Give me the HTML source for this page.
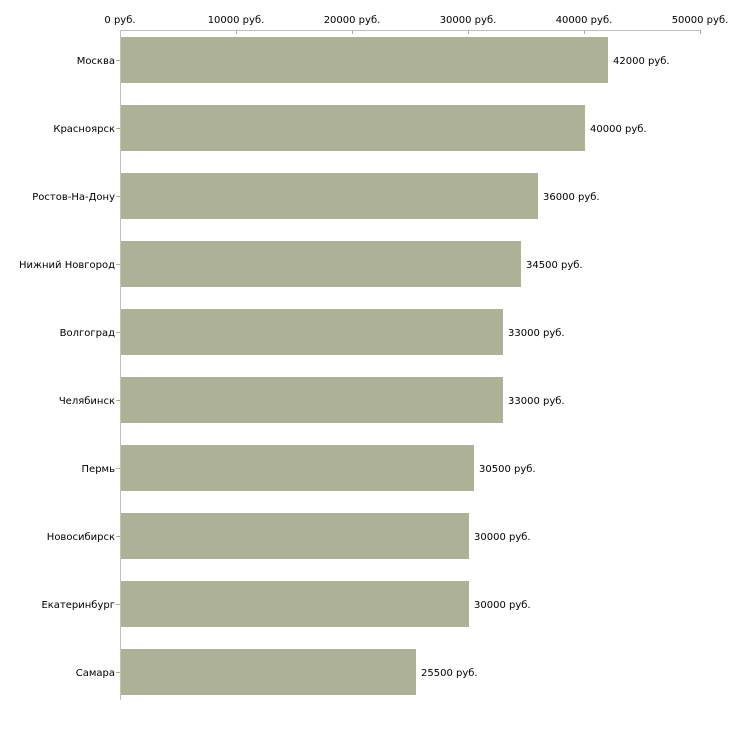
<!DOCTYPE html><html><head><meta charset="utf-8"><style>body{margin:0;background:#fff}</style></head><body>
<svg width="730" height="730" xmlns="http://www.w3.org/2000/svg" font-family="DejaVu Sans, Liberation Sans, sans-serif" font-size="10">
<line x1="120" y1="30.5" x2="700" y2="30.5" stroke="#c0c0c0"/>
<line x1="120.5" y1="30" x2="120.5" y2="700" stroke="#c0c0c0"/>
<g stroke="#b5b08a">
<line x1="236.5" y1="30" x2="236.5" y2="34"/><line x1="352.5" y1="30" x2="352.5" y2="34"/><line x1="468.5" y1="30" x2="468.5" y2="34"/><line x1="584.5" y1="30" x2="584.5" y2="34"/><line x1="700.5" y1="30" x2="700.5" y2="34"/>
</g>
<g text-anchor="middle" fill="#000">
<text x="120" y="23">0 руб.</text><text x="236" y="23">10000 руб.</text><text x="352" y="23">20000 руб.</text><text x="468" y="23">30000 руб.</text><text x="584" y="23">40000 руб.</text><text x="700" y="23">50000 руб.</text>
</g>
<g fill="#adb296">
<rect x="121" y="37" width="487" height="46"/>
<rect x="121" y="105" width="464" height="46"/>
<rect x="121" y="173" width="417" height="46"/>
<rect x="121" y="241" width="400" height="46"/>
<rect x="121" y="309" width="382" height="46"/>
<rect x="121" y="377" width="382" height="46"/>
<rect x="121" y="445" width="353" height="46"/>
<rect x="121" y="513" width="348" height="46"/>
<rect x="121" y="581" width="348" height="46"/>
<rect x="121" y="649" width="295" height="46"/>
</g>
<g stroke="#b5b08a">
<line x1="116" y1="60.5" x2="120" y2="60.5"/><line x1="116" y1="128.5" x2="120" y2="128.5"/><line x1="116" y1="196.5" x2="120" y2="196.5"/><line x1="116" y1="264.5" x2="120" y2="264.5"/><line x1="116" y1="332.5" x2="120" y2="332.5"/><line x1="116" y1="400.5" x2="120" y2="400.5"/><line x1="116" y1="468.5" x2="120" y2="468.5"/><line x1="116" y1="536.5" x2="120" y2="536.5"/><line x1="116" y1="604.5" x2="120" y2="604.5"/><line x1="116" y1="672.5" x2="120" y2="672.5"/>
</g>
<g text-anchor="end">
<text x="115" y="64">Москва</text><text x="115" y="132">Красноярск</text><text x="115" y="200">Ростов-На-Дону</text><text x="115" y="268">Нижний Новгород</text><text x="115" y="336">Волгоград</text><text x="115" y="404">Челябинск</text><text x="115" y="472">Пермь</text><text x="115" y="540">Новосибирск</text><text x="115" y="608">Екатеринбург</text><text x="115" y="676">Самара</text>
</g>
<g>
<text x="613" y="64">42000 руб.</text><text x="590" y="132">40000 руб.</text><text x="543" y="200">36000 руб.</text><text x="526" y="268">34500 руб.</text><text x="508" y="336">33000 руб.</text><text x="508" y="404">33000 руб.</text><text x="479" y="472">30500 руб.</text><text x="474" y="540">30000 руб.</text><text x="474" y="608">30000 руб.</text><text x="421" y="676">25500 руб.</text>
</g>
</svg></body></html>
